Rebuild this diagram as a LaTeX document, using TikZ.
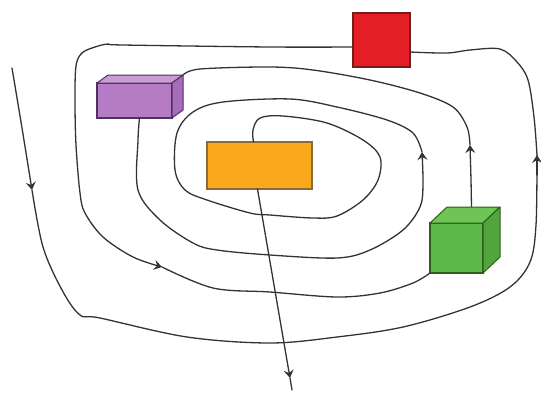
\documentclass[tikz,border=0pt]{standalone}
\usetikzlibrary{arrows.meta,calc}
\definecolor{redfill}{HTML}{E41E26}
\definecolor{redline}{HTML}{7A1A1A}
\definecolor{orfill}{HTML}{F9A91B}
\definecolor{orline}{HTML}{8A6A3A}
\definecolor{pufront}{HTML}{B57BC4}
\definecolor{putop}{HTML}{C99DD4}
\definecolor{puside}{HTML}{A86DB8}
\definecolor{puline}{HTML}{4F3060}
\definecolor{grfront}{HTML}{5EB847}
\definecolor{grtop}{HTML}{6EC456}
\definecolor{grside}{HTML}{52A53D}
\definecolor{grline}{HTML}{2C5E20}
\begin{document}
\begin{tikzpicture}[x=1pt,y=-1pt,
  flow/.style={line width=1.3pt,draw=black!80,line cap=round,line join=round},
  sm/.style={smooth,tension=0.55},
  arr/.style={flow,-{Stealth[length=8pt,width=10pt,inset=3pt]}},
  flatbox/.style={draw,line width=1.1pt,inner sep=0pt,outer sep=0pt}]
\useasboundingbox (0,0) rectangle (541,392);
% boxes (front faces as nodes)
\node[flatbox,fill=redfill,draw=redline,minimum width=57pt,minimum height=54pt] (red) at (381.5,40) {};
\node[flatbox,fill=orfill,draw=orline,minimum width=105pt,minimum height=47pt] (orange) at (259.5,165.5) {};
\node[flatbox,fill=pufront,draw=puline,minimum width=75pt,minimum height=35pt] (purple) at (134.5,100.5) {};
\node[flatbox,fill=grfront,draw=grline,minimum width=53pt,minimum height=50pt] (green) at (456.5,248) {};
% attach points
\coordinate (A0) at (12,68);
\coordinate (a1) at (32,190);
\coordinate (a2) at (537,155);
\coordinate (redE) at ([yshift=-12pt]red.east);
\coordinate (redW) at ([yshift=-7pt]red.west);
\coordinate (b1) at (162,267);
\coordinate (greenSW) at (green.south west);
\coordinate (greenT) at ([shift={(15pt,16pt)}]green.north);
\coordinate (c1) at (470,145);
\coordinate (purpleTR) at ([shift={(11pt,8pt)}]purple.north east);
\coordinate (purpleB) at ([xshift=5pt]purple.south);
\coordinate (d1) at (422,152);
\coordinate (orangeT) at ([xshift=-6pt]orange.north);
\coordinate (orangeB) at ([xshift=-2pt]orange.south);
\coordinate (e1) at (290,378);
\coordinate (eEnd) at (292,390);
% flow lines
\draw[arr] plot[sm] coordinates {(A0) (22,128) (a1)};
\draw[flow] plot[sm] coordinates {(a1) (43,247) (62,290) (80,315) (100,318) (187,337) (270,343) (337,337) (403,327) (470,307) (510,287) (530,262) (536,225) (a2)};
\draw[arr] (537,175) -- (a2);
\draw[flow] plot[sm] coordinates {(a2) (534,117) (528,80) (517,62) (500,49) (470,50) (447,53) (redE)};
\draw[arr] plot[sm] coordinates {(redW) (270,47) (123,45) (108,44) (95,47) (82,53) (76,66) (75,100) (76,145) (80,193) (85,213) (103,237) (133,257) (b1)};
\draw[flow] plot[sm] coordinates {(b1) (213,288) (270,292) (337,297) (380,293) (413,283) (greenSW)};
\draw[arr] plot[sm] coordinates {(greenT) (471,180) (c1)};
\draw[flow] plot[sm] coordinates {(c1) (467,127) (453,107) (420,93) (370,80) (313,70) (270,67) (200,69) (purpleTR)};
\draw[arr] plot[sm] coordinates {(purpleB) (138,140) (138,190) (160,220) (193,243) (217,250) (270,255) (337,258) (370,250) (403,230) (420,207) (423,185) (d1)};
\draw[flow] plot[sm] coordinates {(d1) (413,133) (387,120) (337,107) (290,99) (223,102) (193,112) (177,133) (175,170) (185,190) (207,200) (250,213) (270,215) (313,218) (337,216) (363,200) (378,180) (380,157) (363,140) (327,123) (283,116) (260,118) (253,130) (orangeT)};
\draw[arr] (orangeB) -- (e1);
\draw[flow] (e1) -- (eEnd);
% 3D faces
\filldraw[fill=putop,draw=puline,line width=1pt,line join=round] (purple.north west) -- ++(11,-8) -- (purpleTR) -- (purple.north east) -- cycle;
\filldraw[fill=puside,draw=puline,line width=1pt,line join=round] (purple.north east) -- (purpleTR) -- ++(0,35) -- (purple.south east) -- cycle;
\filldraw[fill=grtop,draw=grline,line width=1pt,line join=round] (green.north west) -- ++(17,-16) -- ++(53,0) -- (green.north east) -- cycle;
\filldraw[fill=grside,draw=grline,line width=1pt,line join=round] (green.north east) -- ++(17,-16) -- ++(0,50) -- (green.south east) -- cycle;
\end{tikzpicture}
\end{document}
